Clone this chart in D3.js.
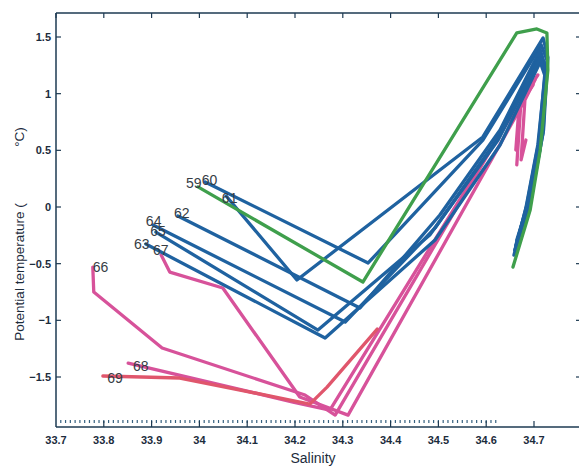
<!DOCTYPE html>
<html>
<head>
<meta charset="utf-8">
<script src="https://cdn.jsdelivr.net/npm/d3@7"></script>
<style>
  html, body { margin: 0; padding: 0; background: #fff; }
  svg { display: block; }
</style>
</head>
<body>
<div id="chart"></div>
<script>
// station ids and colour group
var stations = ["66", "67", "68", "69", "60", "61", "62", "63", "64", "65", "59"];
var groups   = ["pink", "pink", "pink", "coral", "blue", "blue", "blue", "blue", "blue", "blue", "green"];

// salinity / potential temperature profiles, one per station
var sal = {
  "66": [33.777, 33.779, 33.922, 34.221, 34.284, 34.656, 34.708, 34.673, 34.664],
  "67": [33.920, 33.938, 34.049, 34.210, 34.311, 34.667, 34.702, 34.681, 34.673, 34.683],
  "68": [33.851, 34.196, 34.273, 34.650, 34.698, 34.669, 34.662],
  "69": [33.798, 33.959, 34.190, 34.231, 34.267, 34.372],
  "60": [34.012, 34.353, 34.593, 34.715, 34.727, 34.719, 34.692, 34.671, 34.660],
  "61": [34.056, 34.204, 34.593, 34.719, 34.729, 34.720, 34.694, 34.673, 34.662],
  "62": [33.955, 34.336, 34.503, 34.629, 34.713, 34.725, 34.715, 34.690, 34.664],
  "63": [33.888, 34.263, 34.493, 34.629, 34.713, 34.723, 34.708, 34.683, 34.658],
  "64": [33.903, 34.305, 34.493, 34.629, 34.713, 34.725, 34.713, 34.687, 34.662],
  "65": [33.909, 34.248, 34.482, 34.625, 34.713, 34.723, 34.710, 34.685, 34.660],
  "59": [33.997, 34.342, 34.664, 34.706, 34.727, 34.729, 34.713, 34.692, 34.656]
};
var theta = {
  "66": [-0.530, -0.750, -1.244, -1.659, -1.836, 0.838, 1.165, 0.944, 0.371],
  "67": [-0.424, -0.574, -0.715, -1.677, -1.836, 0.838, 1.121, 0.944, 0.415, 0.591],
  "68": [-1.377, -1.721, -1.792, 0.786, 1.077, 0.900, 0.503],
  "69": [-1.491, -1.509, -1.703, -1.739, -1.589, -1.077],
  "60": [0.221, -0.494, 0.591, 1.430, 1.298, 0.653, 0.062, -0.230, -0.380],
  "61": [0.097, -0.644, 0.618, 1.492, 1.320, 0.680, 0.080, -0.210, -0.360],
  "62": [-0.079, -0.891, -0.071, 0.680, 1.386, 1.227, 0.635, 0.062, -0.291],
  "63": [-0.327, -1.156, -0.291, 0.547, 1.280, 1.156, 0.547, -0.009, -0.424],
  "64": [-0.159, -1.015, -0.185, 0.635, 1.342, 1.209, 0.591, 0.018, -0.335],
  "65": [-0.221, -1.086, -0.247, 0.591, 1.315, 1.192, 0.574, 0.018, -0.380],
  "59": [0.177, -0.662, 1.536, 1.571, 1.536, 1.209, 0.503, -0.026, -0.530]
};

// where each station number is written (data units)
var labelSal   = {"59": 33.972, "60": 34.005, "61": 34.047, "62": 33.947, "64": 33.888, "65": 33.897,
                  "63": 33.863, "67": 33.903, "66": 33.777, "68": 33.861, "69": 33.807};
var labelTheta = {"59": 0.168, "60": 0.198, "61": 0.035, "62": -0.093, "64": -0.168, "65": -0.256,
                  "63": -0.371, "67": -0.424, "66": -0.574, "68": -1.447, "69": -1.553};

var xTicks = [33.7, 33.8, 33.9, 34, 34.1, 34.2, 34.3, 34.4, 34.5, 34.6, 34.7];
var yTicks = [-1.5, -1, -0.5, 0, 0.5, 1, 1.5];

(function(){
  'use strict'
  var W = 579, H = 466;
  var frame = {left: 56, top: 13, right: 581, bottom: 427};
  var colors = {pink: "#d7529a", coral: "#e0566c", blue: "#1f62a0", green: "#3f9f4c"};
  var axisColor = "#1d3a52";
  var textColor = "#1c2c3c";

  var svg = d3.select("#chart").append("svg")
              .attr("width", W)
              .attr("height", H);

  var x = d3.scaleLinear().domain([33.7, 34.7]).range([56, 534]);
  var y = d3.scaleLinear().domain([-1.5, 1.5]).range([377, 37]);

  // profiles
  var line = d3.line()
               .x(function(d){ return x(d[0]); })
               .y(function(d){ return y(d[1]); });

  var order = ["pink", "coral", "blue", "green"];
  order.forEach(function(g){
    stations.forEach(function(st, i){
      if(groups[i] !== g) return;
      var pts = sal[st].map(function(s, k){ return [s, theta[st][k]]; });
      svg.append("path")
         .attr("d", line(pts))
         .attr("fill", "none")
         .attr("stroke", colors[g])
         .attr("stroke-width", 3.3)
         .attr("stroke-linejoin", "round")
         .attr("stroke-linecap", "round");
    });
  });

  // station numbers
  stations.forEach(function(st){
    svg.append("text")
       .attr("x", x(labelSal[st]))
       .attr("y", y(labelTheta[st]))
       .attr("font-family", "Liberation Sans, Arial, sans-serif")
       .attr("font-size", 14)
       .attr("fill", "#363d45")
       .text(st);
  });

  // frame
  var fr = svg.append("g")
              .attr("stroke", axisColor)
              .attr("stroke-width", 1.5)
              .attr("fill", "none");
  fr.append("line").attr("x1", frame.left).attr("x2", frame.left).attr("y1", frame.top).attr("y2", frame.bottom);
  fr.append("line").attr("x1", frame.left).attr("x2", frame.right).attr("y1", frame.top).attr("y2", frame.top);
  fr.append("line").attr("x1", frame.left).attr("x2", frame.right).attr("y1", frame.bottom).attr("y2", frame.bottom);
  fr.append("line").attr("x1", frame.right).attr("x2", frame.right).attr("y1", frame.top).attr("y2", frame.bottom);

  // minor marks along the bottom
  var minor = d3.range(3371, 3463).map(function(v){ return v / 100; });
  svg.append("g").selectAll("line")
     .data(minor).enter().append("line")
       .attr("x1", function(d){ return x(d); })
       .attr("x2", function(d){ return x(d); })
       .attr("y1", frame.bottom - 7)
       .attr("y2", frame.bottom - 4)
       .attr("stroke", "#35607f")
       .attr("stroke-width", 1.2);

  // x ticks top and bottom
  var tk = svg.append("g").attr("stroke", axisColor).attr("stroke-width", 1.2);
  xTicks.forEach(function(v){
    tk.append("line").attr("x1", x(v)).attr("x2", x(v)).attr("y1", frame.top).attr("y2", frame.top + 5);
    if(v > 33.7)
      tk.append("line").attr("x1", x(v)).attr("x2", x(v)).attr("y1", frame.bottom).attr("y2", frame.bottom - 6);
  });
  yTicks.forEach(function(v){
    tk.append("line").attr("x1", frame.left).attr("x2", frame.left + 5).attr("y1", y(v)).attr("y2", y(v));
    tk.append("line").attr("x1", frame.right).attr("x2", frame.right - 5).attr("y1", y(v)).attr("y2", y(v));
  });

  // tick labels
  svg.append("g").selectAll("text")
     .data(xTicks).enter().append("text")
       .attr("x", function(d){ return x(d); })
       .attr("y", 444)
       .attr("text-anchor", "middle")
       .attr("font-family", "Liberation Sans, Arial, sans-serif")
       .attr("font-weight", "bold")
       .attr("font-size", 11)
       .attr("fill", textColor)
       .text(function(d){ return d3.format("")(d); });

  svg.append("g").selectAll("text")
     .data(yTicks).enter().append("text")
       .attr("x", 51)
       .attr("y", function(d){ return y(d); })
       .attr("dy", "0.35em")
       .attr("text-anchor", "end")
       .attr("font-family", "Liberation Sans, Arial, sans-serif")
       .attr("font-weight", "bold")
       .attr("font-size", 11)
       .attr("fill", textColor)
       .text(function(d){ return d3.format("")(d); });

  // axis titles
  svg.append("text")
     .attr("x", 313)
     .attr("y", 463)
     .attr("text-anchor", "middle")
     .attr("font-family", "Liberation Sans, Arial, sans-serif")
     .attr("font-size", 14)
     .attr("fill", textColor)
     .text("Salinity");

  svg.append("text")
     .attr("transform", "translate(24,272) rotate(-90)")
     .attr("text-anchor", "middle")
     .attr("font-family", "Liberation Sans, Arial, sans-serif")
     .attr("font-size", 13.5)
     .attr("fill", textColor)
     .text("Potential temperature (");

  svg.append("text")
     .attr("transform", "translate(24,137) rotate(-90)")
     .attr("text-anchor", "middle")
     .attr("font-family", "Liberation Sans, Arial, sans-serif")
     .attr("font-size", 13.5)
     .attr("fill", textColor)
     .text("°C)");
})();
</script>
</body>
</html>
